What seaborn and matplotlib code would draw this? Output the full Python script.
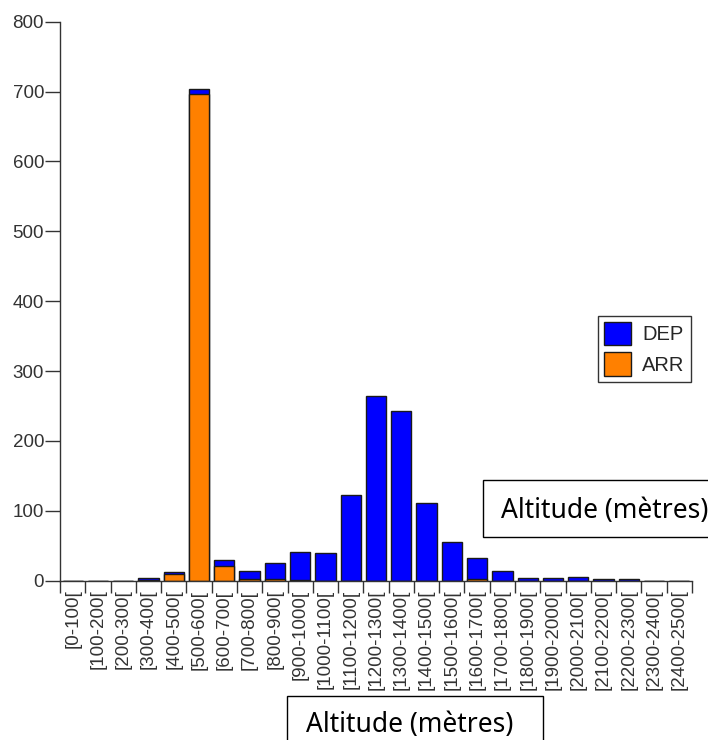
import numpy as np
import pandas as pd
import matplotlib
matplotlib.use("Agg")
import matplotlib.pyplot as plt
from matplotlib.patches import Rectangle, Patch
import seaborn as sns

categories = ["[0-100[", "[100-200[", "[200-300[", "[300-400[", "[400-500[",
              "[500-600[", "[600-700[", "[700-800[", "[800-900[", "[900-1000[",
              "[1000-1100[", "[1100-1200[", "[1200-1300[", "[1300-1400[",
              "[1400-1500[", "[1500-1600[", "[1600-1700[", "[1700-1800[",
              "[1800-1900[", "[1900-2000[", "[2000-2100[", "[2100-2200[",
              "[2200-2300[", "[2300-2400[", "[2400-2500["]
dep = [0, 0, 0, 3, 4, 6, 8, 11, 23, 40, 39, 122, 264, 243, 111, 56, 31, 14, 4, 4, 6, 2, 2, 0, 0]
arr = [0, 0, 0, 1, 9, 697, 21, 3, 2, 1, 0, 0, 0, 0, 0, 0, 2, 0, 0, 0, 0, 0, 0, 0, 0]
yticks = [0, 100, 200, 300, 400, 500, 600, 700, 800]
axis_title = "Altitude (mètres)"
series_names = ["DEP", "ARR"]

sns.set_theme(style="white")
plt.rcParams['font.family'] = ['Liberation Sans', 'DejaVu Sans']

W, H = 708, 740
fig = plt.figure(figsize=(W / 100, H / 100), dpi=100)
ax = fig.add_axes([60 / W, 1 - 580.7 / H, (692 - 60) / W, (580.7 - 21.7) / H])

df = pd.DataFrame({"cat": categories, "DEP": dep, "ARR": arr})
df["total"] = df["DEP"] + df["ARR"]

blue = "#0000FF"
orange = "#FF8000"
edge = "#1a1a1a"

sns.barplot(data=df, x="cat", y="total", color=blue, saturation=1,
            edgecolor=edge, linewidth=1.0, width=0.8, ax=ax)
sns.barplot(data=df, x="cat", y="ARR", color=orange, saturation=1,
            edgecolor=edge, linewidth=1.0, width=0.8, ax=ax)

ax.set_xlim(-0.5, len(categories) - 0.5)
ax.set_ylim(0, 800)
ax.set_yticks(yticks)
ax.set_yticklabels([str(v) for v in yticks])
ax.set_xticks(range(len(categories)))
ax.set_xticklabels(categories, rotation=90)
ax.set_xticks(np.arange(-0.5, len(categories), 1.0), minor=True)
ax.set_xlabel("")
ax.set_ylabel("")

axc = "#333333"
for s in ["top", "right"]:
    ax.spines[s].set_visible(False)
for s in ["left", "bottom"]:
    ax.spines[s].set_color(axc)
    ax.spines[s].set_linewidth(1.0)

ax.tick_params(axis="y", which="major", left=True, length=10.5, width=1.0,
               color=axc, pad=1, labelsize=13.5, labelcolor="#333333", direction="out")
ax.tick_params(axis="x", which="major", bottom=True, length=0, pad=6.5,
               labelsize=13.5, labelcolor="#333333")
ax.tick_params(axis="x", which="minor", bottom=True, length=8.5, width=1.0,
               color=axc, direction="out")

handles = [Patch(facecolor=blue, edgecolor=edge, linewidth=1.0, label=series_names[0]),
           Patch(facecolor=orange, edgecolor=edge, linewidth=1.0, label=series_names[1])]
leg = fig.legend(handles=handles, loc="upper left",
                 bbox_to_anchor=(598 / W, 1 - 316 / H),
                 fontsize=14.5, frameon=True, fancybox=False, shadow=False,
                 framealpha=1, edgecolor="#333333", borderpad=0.3,
                 handlelength=1.35, handleheight=1.4, handletextpad=0.55,
                 labelspacing=0.35, borderaxespad=0)
leg.get_frame().set_linewidth(1.0)

# Text boxes
box_font = ['Noto Sans', 'DejaVu Sans']
fig.add_artist(Rectangle((483 / W, 1 - 536.7 / H), (712 - 483) / W, (536.7 - 480) / H,
                         transform=fig.transFigure, facecolor="white",
                         edgecolor="black", linewidth=1.0, zorder=10))
fig.text(605 / W, 1 - 518 / H, axis_title, ha="center", va="baseline",
         fontsize=19, family=box_font, color="black", zorder=11)

fig.add_artist(Rectangle((287 / W, 1 - 745 / H), (543 - 287) / W, (745 - 696) / H,
                         transform=fig.transFigure, facecolor="white",
                         edgecolor="black", linewidth=1.0, zorder=10))
fig.text(410 / W, 1 - 731.7 / H, axis_title, ha="center", va="baseline",
         fontsize=19, family=box_font, color="black", zorder=11)

fig.savefig("out.png", dpi=100)
